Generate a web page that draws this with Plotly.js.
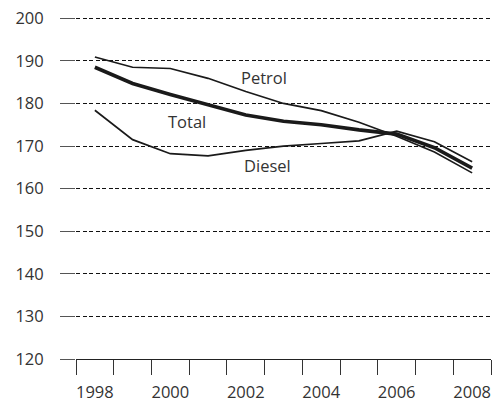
<!DOCTYPE html>
<html>
<head>
<meta charset="utf-8">
<script src="https://cdn.plot.ly/plotly-3.0.1.min.js"></script>
<style>html,body{margin:0;padding:0;background:#fff;}#chart{width:493px;height:403px;}</style>
</head>
<body>
<div id="chart"></div>
<script>
var years = ['1998','1999','2000','2001','2002','2003','2004','2005','2006','2007','2008'];
var yearLabels = ['1998','','2000','','2002','','2004','','2006','','2008'];
var petrol = [190.9, 188.5, 188.2, 185.9, 182.8, 180.0, 178.3, 175.6, 172.3, 168.6, 163.7];
var total  = [188.5, 184.7, 182.1, 179.6, 177.3, 175.8, 175.0, 173.8, 172.8, 169.6, 164.8];
var diesel = [178.4, 171.5, 168.2, 167.7, 169.0, 170.0, 170.6, 171.2, 173.5, 171.0, 166.3];
var seriesNames = ['Petrol', 'Total', 'Diesel'];
var yTicks = [120, 130, 140, 150, 160, 170, 180, 190, 200];

var lineColor = '#1a1a1a';
var traces = [
  {x: years, y: petrol, name: seriesNames[0], mode: 'lines', line: {color: lineColor, width: 1.7}},
  {x: years, y: diesel, name: seriesNames[2], mode: 'lines', line: {color: lineColor, width: 1.7}},
  {x: years, y: total,  name: seriesNames[1], mode: 'lines', line: {color: lineColor, width: 3.6}}
];

var font = {family: '"Open Sans", "Noto Sans", sans-serif', size: 16.5, color: '#333'};

var layout = {
  width: 493, height: 403,
  margin: {l: 76, r: 2, t: 14, b: 44},
  paper_bgcolor: '#fff', plot_bgcolor: '#fff',
  showlegend: false,
  font: font,
  xaxis: {
    type: 'category',
    range: [-0.5, 10.5],
    tickmode: 'array', tickvals: years, ticktext: yearLabels,
    tickson: 'boundaries',
    tickangle: 0,
    ticks: 'outside', ticklen: 15, tickcolor: '#333', tickwidth: 1,
    showgrid: false, zeroline: false,
    showline: true, linecolor: '#222', linewidth: 1,
    ticklabelstandoff: 18,
    tickfont: font,
    automargin: false,
    fixedrange: true
  },
  yaxis: {
    range: [120, 201],
    tickmode: 'array', tickvals: yTicks,
    ticks: 'outside', ticklen: 15, tickcolor: '#555', tickwidth: 1,
    showgrid: true, gridcolor: '#111', gridwidth: 1, griddash: '4px,2.5px',
    zeroline: false, showline: false,
    ticklabelstandoff: 13,
    tickfont: font,
    automargin: false,
    fixedrange: true
  },
  annotations: [
    {x: 4.48, y: 186.0, xref: 'x', yref: 'y', text: seriesNames[0], showarrow: false, font: font},
    {x: 2.45, y: 175.8, xref: 'x', yref: 'y', text: seriesNames[1], showarrow: false, font: font},
    {x: 4.58, y: 165.5, xref: 'x', yref: 'y', text: seriesNames[2], showarrow: false, font: font}
  ]
};

Plotly.newPlot('chart', traces, layout, {displayModeBar: false, staticPlot: true});
</script>
</body>
</html>
